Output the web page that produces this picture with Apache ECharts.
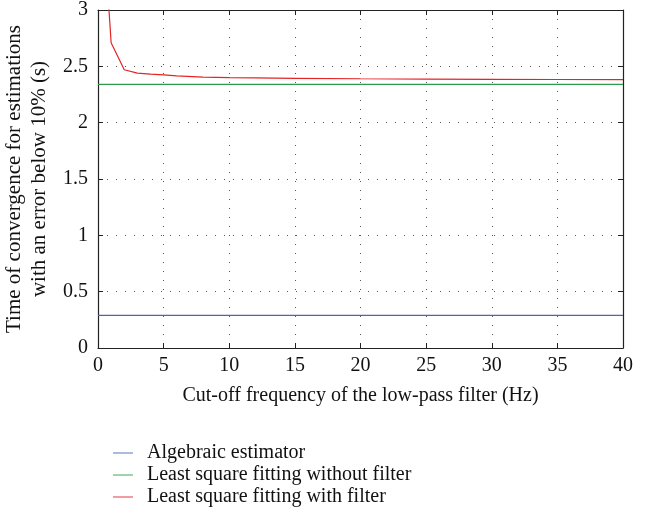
<!DOCTYPE html>
<html><head><meta charset="utf-8">
<script src="https://cdn.jsdelivr.net/npm/echarts@6/dist/echarts.min.js"></script>
<style>html,body{margin:0;padding:0;background:#fff}#c{width:650px;height:513px}</style>
</head><body><div id="c"></div>
<script>
const xTicks = [0,5,10,15,20,25,30,35,40];
const yTicks = [0,0.5,1,1.5,2,2.5,3];
const algebraicX = [0, 40];
const algebraicY = [0.29, 0.29];
const lsNoFilterX = [0, 40];
const lsNoFilterY = [2.34, 2.34];
const lsFilterX = [0.5, 1, 2, 3, 4, 5, 6, 8, 10, 12, 15, 20, 25, 30, 35, 40];
const lsFilterY = [3.6, 2.71, 2.47, 2.44, 2.43, 2.425, 2.415, 2.405, 2.40, 2.397, 2.394, 2.39, 2.387, 2.385, 2.383, 2.382];
const names = ['Algebraic estimator','Least square fitting without filter','Least square fitting with filter'];
const colors = ['#4a66b0','#2e9b4c','#e32526'];

const zip = (a,b)=>a.map((v,i)=>[v,b[i]]);
const font = 'Liberation Serif';
const fs = 20;
const chart = echarts.init(document.getElementById('c'));
const dotted = {show:true,lineStyle:{type:[1,8],color:'#555',width:1}};
const tick = {inside:true,length:5,lineStyle:{color:'#222'}};
const axLine = {show:true,onZero:false,lineStyle:{color:'#222',width:1.2}};
chart.setOption({
  animation:false,
  textStyle:{fontFamily:font},
  grid:{left:98,right:27,top:10,bottom:165,containLabel:false,outerBoundsMode:'none'},
  legend:names.map((n,i)=>({
    left:113,top:443+i*22,padding:0,itemGap:0,itemWidth:20,itemHeight:14,
    textStyle:{fontFamily:font,fontSize:fs,color:'#111',padding:[0,0,0,9]},
    data:[{name:n,icon:'path://M0,6 L22,6 L22,7 L0,7 Z'}]})),
  xAxis:[{type:'value',min:0,max:40,interval:5,
    name:'Cut-off frequency of the low-pass filter (Hz)',nameLocation:'middle',nameGap:38,
    nameTextStyle:{fontFamily:font,fontSize:20,color:'#111'},
    axisLine:axLine,axisTick:tick,
    axisLabel:{fontFamily:font,fontSize:fs,color:'#111',margin:8},
    splitLine:dotted},
    {type:'value',position:'top',min:0,max:40,interval:5,axisLine:axLine,axisTick:tick,axisLabel:{show:false},splitLine:{show:false}}],
  yAxis:[{type:'value',min:0,max:3,interval:0.5,
    name:'Time of convergence for estimations\nwith an error below 10% (s)',nameLocation:'middle',nameGap:41,
    nameTextStyle:{fontFamily:font,fontSize:21,color:'#111',lineHeight:25},
    axisLine:axLine,axisTick:tick,
    axisLabel:{fontFamily:font,fontSize:fs,color:'#111',margin:10,formatter:v=>String(v)},
    splitLine:dotted},
    {type:'value',position:'right',min:0,max:3,interval:0.5,axisLine:axLine,axisTick:tick,axisLabel:{show:false},splitLine:{show:false}}],
  series:[
    {name:names[0],type:'line',data:zip(algebraicX,algebraicY),symbol:'none',lineStyle:{color:colors[0],width:1.2},itemStyle:{color:colors[0]}},
    {name:names[1],type:'line',data:zip(lsNoFilterX,lsNoFilterY),symbol:'none',lineStyle:{color:colors[1],width:1.2},itemStyle:{color:colors[1]}},
    {name:names[2],type:'line',data:zip(lsFilterX,lsFilterY),symbol:'none',clip:true,lineStyle:{color:colors[2],width:1.2},itemStyle:{color:colors[2]}}
  ]
});
</script></body></html>
